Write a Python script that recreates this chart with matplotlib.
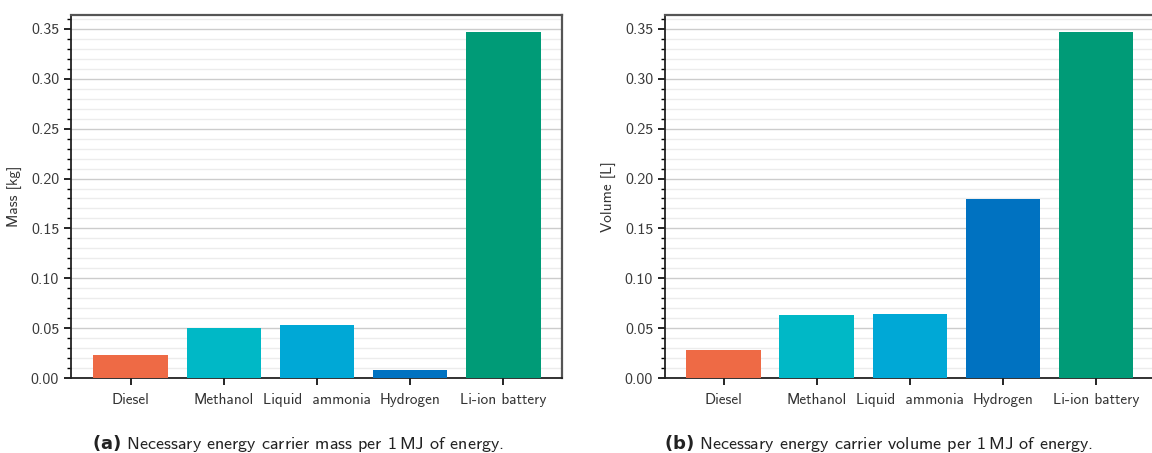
import numpy as np
import matplotlib.pyplot as plt
from matplotlib.ticker import MultipleLocator

carriers = ['Diesel', 'Methanol', 'Liquid  ammonia', 'Hydrogen', 'Li-ion battery']
mass_kg = [0.023, 0.050, 0.053, 0.008, 0.347]
volume_l = [0.028, 0.063, 0.064, 0.1795, 0.347]
colors = ['#EE6A45', '#00B8C6', '#00A8D6', '#0072C1', '#009B77']

plt.rcParams['font.family'] = ['cmss10', 'DejaVu Sans']
plt.rcParams['axes.unicode_minus'] = False
plt.rcParams['mathtext.fontset'] = 'custom'
plt.rcParams['mathtext.bf'] = 'DejaVu Sans:bold'
plt.rcParams['mathtext.rm'] = 'cmss10'

fig = plt.figure(figsize=(11.52, 4.53), dpi=100)
W, H = 1152, 453
ax1 = fig.add_axes([71 / W, (H - 378) / H, (562 - 71) / W, 363 / H])
ax2 = fig.add_axes([665 / W, (H - 378) / H, (1162 - 665) / W, 363 / H])


def draw(ax, values, ylabel):
    x = np.arange(len(carriers))
    ax.bar(x, values, width=0.8, color=colors, zorder=3)
    ax.set_xticks(x)
    ax.set_xticklabels(carriers, fontsize=11, color='#333333')
    ax.set_ylim(0, 0.364)
    ax.yaxis.set_major_locator(MultipleLocator(0.05))
    ax.yaxis.set_minor_locator(MultipleLocator(0.01))
    ax.set_yticks(np.arange(0, 0.351, 0.05))
    ax.set_yticklabels(['%.2f' % v for v in np.arange(0, 0.351, 0.05)],
                       fontsize=11.5, color='#3a3a3a')
    ax.grid(True, which='major', axis='y', color='#cccccc', lw=1.0, zorder=0)
    ax.grid(True, which='minor', axis='y', color='#ececec', lw=1.0, zorder=0)
    ax.set_ylabel(ylabel, fontsize=11, color='#333333', labelpad=6)
    ax.tick_params(axis='y', which='major', length=5, width=1.2, direction='out')
    ax.tick_params(axis='y', which='minor', length=3, width=1.0, direction='out')
    ax.tick_params(axis='x', length=5, width=1.2, pad=6)
    for s in ['left', 'bottom']:
        ax.spines[s].set_color('#222222')
        ax.spines[s].set_linewidth(1.3)
    for s in ['top', 'right']:
        ax.spines[s].set_color('#555555')
        ax.spines[s].set_linewidth(1.6)


draw(ax1, mass_kg, 'Mass [kg]')
draw(ax2, volume_l, 'Volume [L]')
ax1.set_xlim(-0.64, 4.63)
ax2.set_xlim(-0.63, 4.71)

fig.text(298 / W, 1 - 443 / H, r'$\mathbf{(a)}$ Necessary energy carrier mass per 1$\,$MJ of energy.',
         ha='center', va='center', fontsize=13, color='#222222')
fig.text(879 / W, 1 - 443 / H, r'$\mathbf{(b)}$ Necessary energy carrier volume per 1$\,$MJ of energy.',
         ha='center', va='center', fontsize=13, color='#222222')

fig.savefig('out.png', dpi=100)
